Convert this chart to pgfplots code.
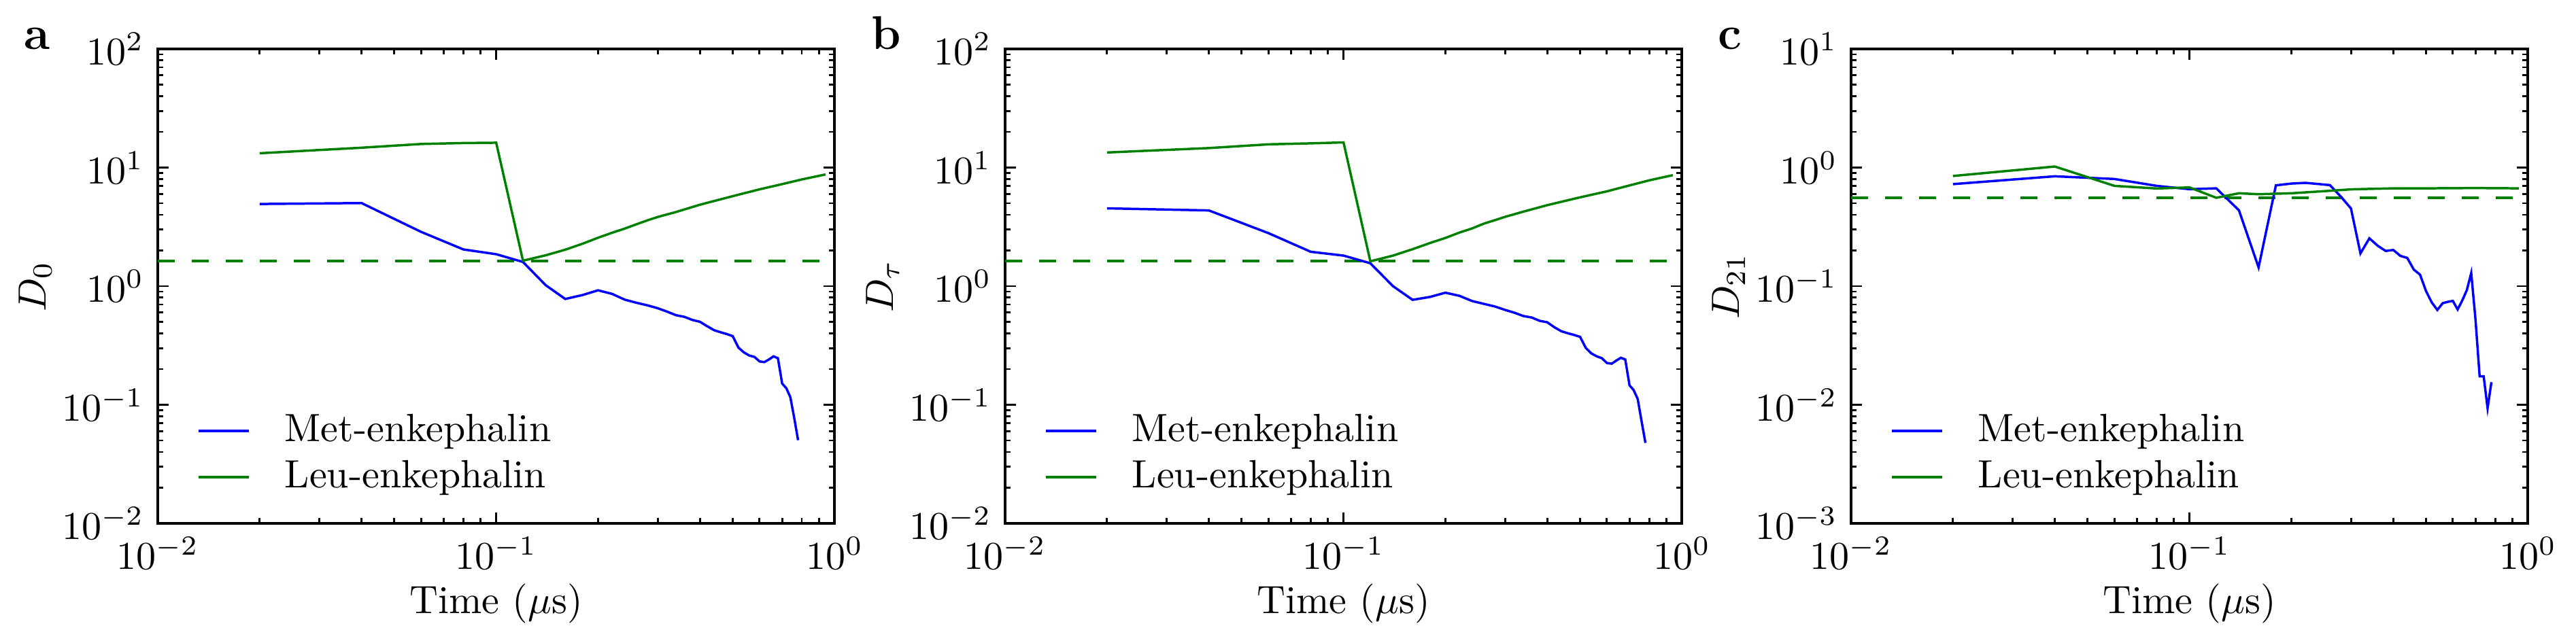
\documentclass[border=0pt]{standalone}
\usepackage{pgfplots}
\pgfplotsset{compat=1.18}
\definecolor{mblue}{RGB}{0,0,255}
\definecolor{mgreen}{RGB}{0,128,0}

% ---------------- data ----------------
\pgfplotstableread{
t v
0.02 4.93
0.04 5.02
0.06 2.87
0.08 2.04
0.10 1.86
0.12 1.60
0.14 1.02
0.16 0.78
0.18 0.842
0.20 0.923
0.22 0.861
0.24 0.769
0.26 0.724
0.28 0.689
0.30 0.652
0.32 0.610
0.34 0.569
0.36 0.551
0.38 0.519
0.40 0.501
0.42 0.460
0.44 0.426
0.46 0.409
0.48 0.395
0.50 0.379
0.52 0.303
0.54 0.276
0.56 0.260
0.58 0.253
0.60 0.232
0.62 0.229
0.64 0.241
0.66 0.256
0.68 0.247
0.70 0.151
0.72 0.138
0.74 0.116
0.76 0.0773
0.78 0.0503
}\metA
\pgfplotstableread{
t v
0.02 13.2
0.04 14.7
0.06 15.8
0.08 16.1
0.10 16.2
0.12 1.64
0.14 1.82
0.16 2.03
0.18 2.28
0.20 2.56
0.22 2.82
0.24 3.06
0.26 3.33
0.28 3.59
0.30 3.83
0.34 4.22
0.40 4.86
0.50 5.74
0.60 6.55
0.70 7.25
0.80 7.94
0.94 8.75
}\leuA
\pgfplotstableread{
t v
0.02 4.53
0.04 4.35
0.06 2.80
0.08 1.95
0.10 1.81
0.12 1.56
0.14 1.00
0.16 0.767
0.18 0.811
0.20 0.881
0.22 0.829
0.24 0.749
0.26 0.709
0.28 0.674
0.30 0.631
0.32 0.597
0.34 0.560
0.36 0.544
0.38 0.510
0.40 0.496
0.42 0.450
0.44 0.417
0.46 0.401
0.48 0.388
0.50 0.374
0.52 0.301
0.54 0.271
0.56 0.256
0.58 0.247
0.60 0.225
0.62 0.222
0.64 0.236
0.66 0.249
0.68 0.241
0.70 0.146
0.72 0.133
0.74 0.112
0.76 0.0724
0.78 0.0477
}\metB
\pgfplotstableread{
t v
0.02 13.4
0.04 14.6
0.06 15.7
0.08 16.0
0.10 16.3
0.12 1.62
0.14 1.81
0.16 2.05
0.18 2.31
0.20 2.55
0.22 2.83
0.24 3.07
0.26 3.37
0.28 3.60
0.30 3.84
0.34 4.25
0.40 4.82
0.50 5.61
0.60 6.30
0.70 7.07
0.80 7.80
0.94 8.63
}\leuB
\pgfplotstableread{
t v
0.02 0.725
0.04 0.844
0.06 0.801
0.08 0.701
0.10 0.657
0.12 0.668
0.14 0.436
0.16 0.144
0.18 0.708
0.20 0.733
0.22 0.743
0.24 0.727
0.26 0.711
0.28 0.569
0.30 0.452
0.32 0.189
0.34 0.253
0.36 0.219
0.38 0.198
0.40 0.202
0.42 0.180
0.44 0.173
0.46 0.138
0.48 0.125
0.50 0.0908
0.52 0.0728
0.54 0.0630
0.56 0.0719
0.58 0.0738
0.60 0.0751
0.62 0.0636
0.64 0.0760
0.66 0.0927
0.68 0.129
0.70 0.0524
0.72 0.0174
0.74 0.0174
0.76 0.00936
0.78 0.0155
}\metC
\pgfplotstableread{
t v
0.02 0.849
0.04 1.02
0.06 0.701
0.08 0.666
0.10 0.680
0.12 0.556
0.14 0.607
0.16 0.596
0.20 0.607
0.26 0.637
0.30 0.655
0.40 0.668
0.50 0.668
0.60 0.670
0.70 0.672
0.80 0.670
0.94 0.668
}\leuC

\pgfplotsset{
  every axis/.append style={
    xmode=log, ymode=log,
    scale only axis, width=171.6pt, height=120.34pt,
    anchor=south west,
    xmin=0.01, xmax=1,
    xtick={0.01,0.1,1},
    tick align=inside, xtick pos=both, ytick pos=both,
    major tick length=2.8pt, minor tick length=1.4pt,
    every tick/.style={black, line width=0.5pt},
    axis line style={line width=0.7pt},
    legend style={draw=none, fill=none, at={(rel axis cs:0,0)}, anchor=south west,
      xshift=10pt, yshift=7.5pt, inner sep=0pt, outer sep=0pt,
      row sep=3.3pt, column sep=8.8pt, nodes={inner sep=0pt}},
    legend cell align=left,
    legend image code/.code={\draw[line width=0.6pt] (0pt,0pt) -- (12.8pt,0pt);},
  },
}

\newcommand\decor[3]{%
  \node[anchor=base west, inner sep=0pt] at ([xshift=-34pt]#1.north west) {\fontsize{12}{14}\selectfont\textbf{#2}};
  \path ([xshift=-28.4pt]#1.west) node[rotate=90, anchor=base, inner sep=0pt] {#3};
  \path ([yshift=-22.9pt]#1.south) node[anchor=base, inner sep=0pt] {Time ($\mu$s)};
}

\begin{document}
\begin{tikzpicture}
\useasboundingbox (0,0) rectangle (653.1pt,163.1pt);

\begin{axis}[name=A, at={(40.0pt,30.34pt)}, ymin=1e-2, ymax=1e2]
\addplot[mgreen, line width=0.7pt, dash pattern=on 4.3pt off 4.3pt, forget plot] coordinates {(0.01,1.63) (1,1.63)};
\addplot[mblue, line width=0.6pt] table[x=t,y=v] {\metA};
\addlegendentry{Met-enkephalin}
\addplot[mgreen, line width=0.6pt] table[x=t,y=v] {\leuA};
\addlegendentry{Leu-enkephalin}
\end{axis}
\decor{A}{a}{$D_0$}

\begin{axis}[name=B, at={(254.83pt,30.34pt)}, ymin=1e-2, ymax=1e2]
\addplot[mgreen, line width=0.7pt, dash pattern=on 4.3pt off 4.3pt, forget plot] coordinates {(0.01,1.62) (1,1.62)};
\addplot[mblue, line width=0.6pt] table[x=t,y=v] {\metB};
\addlegendentry{Met-enkephalin}
\addplot[mgreen, line width=0.6pt] table[x=t,y=v] {\leuB};
\addlegendentry{Leu-enkephalin}
\end{axis}
\decor{B}{b}{$D_\tau$}

\begin{axis}[name=C, at={(469.31pt,30.34pt)}, ymin=1e-3, ymax=1e1]
\addplot[mgreen, line width=0.7pt, dash pattern=on 4.3pt off 4.3pt, forget plot] coordinates {(0.01,0.556) (1,0.556)};
\addplot[mblue, line width=0.6pt] table[x=t,y=v] {\metC};
\addlegendentry{Met-enkephalin}
\addplot[mgreen, line width=0.6pt] table[x=t,y=v] {\leuC};
\addlegendentry{Leu-enkephalin}
\end{axis}
\decor{C}{c}{$D_{21}$}
\end{tikzpicture}
\end{document}
